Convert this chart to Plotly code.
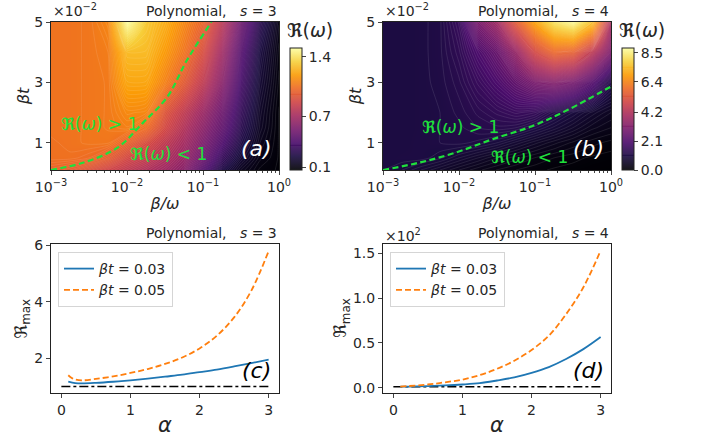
import plotly.graph_objects as go

W, H = 705, 441

# --- contour panels (beta t in units of 1e-2) ---
beta_omega = [0.001, 0.00178, 0.00316, 0.00562, 0.01, 0.0178, 0.0316, 0.0562, 0.1, 0.178, 0.316, 0.562, 1.0]
beta_t = [0.1, 0.5, 1, 1.5, 2, 3, 4, 5]

z_a = [
    [1.00, 0.97, 0.92, 0.86, 0.80, 0.74, 0.68, 0.60, 0.42, 0.24, 0.14, 0.09, 0.08],
    [1.05, 1.05, 1.03, 0.97, 0.88, 0.82, 0.74, 0.65, 0.50, 0.32, 0.19, 0.11, 0.08],
    [1.05, 1.06, 1.07, 1.07, 0.99, 0.90, 0.80, 0.70, 0.56, 0.40, 0.24, 0.13, 0.08],
    [1.06, 1.06, 1.07, 1.08, 1.10, 1.03, 0.88, 0.75, 0.61, 0.46, 0.28, 0.15, 0.08],
    [1.06, 1.06, 1.07, 1.08, 1.13, 1.12, 0.93, 0.80, 0.66, 0.50, 0.31, 0.16, 0.08],
    [1.06, 1.06, 1.07, 1.08, 1.22, 1.22, 1.10, 0.96, 0.80, 0.60, 0.37, 0.19, 0.09],
    [1.06, 1.06, 1.07, 1.09, 1.28, 1.28, 1.18, 1.06, 0.90, 0.68, 0.42, 0.22, 0.10],
    [1.06, 1.06, 1.07, 1.12, 1.50, 1.32, 1.24, 1.12, 1.00, 0.78, 0.50, 0.28, 0.12],
]
z_b = [
    [0.98, 0.90, 0.75, 0.60, 0.45, 0.32, 0.22, 0.15, 0.10, 0.06, 0.04, 0.02, 0.01],
    [1.00, 1.02, 1.02, 0.92, 0.75, 0.60, 0.45, 0.33, 0.22, 0.15, 0.10, 0.06, 0.04],
    [1.00, 1.00, 1.03, 1.05, 1.08, 1.02, 0.90, 0.72, 0.55, 0.40, 0.28, 0.18, 0.12],
    [1.00, 1.00, 1.02, 1.05, 1.10, 1.20, 1.25, 1.20, 1.00, 0.80, 0.60, 0.40, 0.30],
    [1.00, 1.00, 1.02, 1.05, 1.15, 1.30, 1.45, 1.60, 1.50, 1.15, 0.90, 0.65, 0.45],
    [1.00, 1.00, 1.02, 1.08, 1.25, 1.60, 2.00, 2.50, 3.00, 3.20, 2.90, 2.20, 1.10],
    [1.00, 1.00, 1.02, 1.10, 1.40, 2.00, 2.60, 3.60, 5.00, 5.80, 5.60, 4.40, 3.00],
    [1.00, 1.00, 1.02, 1.10, 1.60, 3.00, 3.80, 5.50, 7.00, 8.20, 8.70, 7.50, 3.80],
]

boundary_a_x = [0.001, 0.00263, 0.00741, 0.0162, 0.0339, 0.0617, 0.129]
boundary_a_y = [0.1, 0.34, 0.83, 1.66, 2.52, 3.74, 5.0]
boundary_b_x = [0.001, 0.00295, 0.00891, 0.0269, 0.0912, 0.275, 0.977]
boundary_b_y = [0.1, 0.34, 0.67, 1.11, 1.55, 2.10, 2.85]

log_tick_vals = [0.001, 0.01, 0.1, 1]
log_tick_text = ["10<sup>\u22123</sup>", "10<sup>\u22122</sup>", "10<sup>\u22121</sup>", "10<sup>0</sup>"]

# --- line panels ---
alpha_c_blue = [0.1, 0.2, 0.3, 0.5, 0.75, 1, 1.25, 1.5, 1.75, 2, 2.25, 2.5, 2.75, 3]
rmax_c_blue = [1.17, 1.12, 1.11, 1.13, 1.17, 1.22, 1.28, 1.35, 1.42, 1.51, 1.60, 1.71, 1.83, 1.95]
alpha_c_orange = [0.1, 0.15, 0.2, 0.3, 0.5, 0.75, 1, 1.25, 1.5, 1.75, 2, 2.25, 2.5, 2.75, 3]
rmax_c_orange = [1.40, 1.30, 1.25, 1.22, 1.27, 1.36, 1.48, 1.62, 1.80, 2.03, 2.35, 2.80, 3.45, 4.40, 5.80]

alpha_d = [0.1, 0.5, 0.75, 1, 1.25, 1.5, 1.75, 2, 2.25, 2.5, 2.75, 3]
rmax_d_blue = [0.012, 0.018, 0.025, 0.035, 0.05, 0.08, 0.115, 0.165, 0.23, 0.32, 0.43, 0.565]
rmax_d_orange = [0.012, 0.035, 0.06, 0.09, 0.14, 0.21, 0.30, 0.42, 0.58, 0.82, 1.12, 1.53]

reference_alpha = [0, 3]
reference_c = [1, 1]
reference_d = [0.01, 0.01]

FONT = "DejaVu Sans"
GREEN = "#1fe03c"
LINES = "rgba(255,255,255,0.2)"
R = "\u211c"
INK = "#262626"


def px(x):
    return x / W


def py(y):
    return 1 - y / H


fig = go.Figure()


def contour_panel(z, axis, zmin, zmax, step, ticks, cb_x, bx, by):
    xa, ya = ("x", "y") if axis == 1 else (f"x{axis}", f"y{axis}")
    fig.add_trace(go.Contour(
        x=beta_omega, y=beta_t, z=z, xaxis=xa, yaxis=ya,
        colorscale="Inferno", zmin=zmin, zmax=zmax,
        contours=dict(coloring="heatmap", start=zmin, end=zmax, size=step),
        line=dict(color=LINES, width=0.5, smoothing=0.6),
        colorbar=dict(
            x=px(cb_x), xanchor="left", y=py(170), yanchor="bottom",
            len=122 / H, lenmode="fraction", thickness=12, thicknessmode="pixels",
            xpad=0, ypad=0, tickvals=ticks, ticks="outside", ticklen=4, tickwidth=1,
            tickformat=".1f", outlinecolor="#222", outlinewidth=1,
            tickfont=dict(size=14, color=INK),
        ),
        showlegend=False,
    ))
    fig.add_trace(go.Scatter(
        x=bx, y=by, xaxis=xa, yaxis=ya, mode="lines", showlegend=False,
        line=dict(color=GREEN, width=2.2, dash="6px,3.5px", shape="spline"),
    ))


contour_panel(z_a, 1, 0.07, 1.505, 0.012, [0.1, 0.7, 1.4], 290, boundary_a_x, boundary_a_y)
contour_panel(z_b, 2, 0.0, 8.84, 0.075, [0.0, 2.1, 4.2, 6.4, 8.5], 622, boundary_b_x, boundary_b_y)

BLUE, ORANGE = "#1f77b4", "#ff7f0e"
LB1 = "<i>\u03b2t</i> = 0.03"
LB2 = "<i>\u03b2t</i> = 0.05"


def line_panel(xa, ya, legend, xb, yb, xo, yo, yref):
    fig.add_trace(go.Scatter(x=reference_alpha, y=yref, xaxis=xa, yaxis=ya, mode="lines",
                             line=dict(color="black", width=1.5, dash="dashdot"), showlegend=False))
    fig.add_trace(go.Scatter(x=xb, y=yb, xaxis=xa, yaxis=ya, mode="lines", name=LB1, legend=legend,
                             line=dict(color=BLUE, width=1.8, shape="spline")))
    fig.add_trace(go.Scatter(x=xo, y=yo, xaxis=xa, yaxis=ya, mode="lines", name=LB2, legend=legend,
                             line=dict(color=ORANGE, width=1.8, dash="6px,3px", shape="spline")))


line_panel("x3", "y3", "legend", alpha_c_blue, rmax_c_blue, alpha_c_orange, rmax_c_orange, reference_c)
line_panel("x4", "y4", "legend2", alpha_d, rmax_d_blue, alpha_d, rmax_d_orange, reference_d)

TICK = dict(size=14, color=INK)
axis_common = dict(showline=True, mirror=True, linecolor="#222", linewidth=1, ticks="outside",
                   ticklen=4, tickwidth=1, showgrid=False, zeroline=False, tickfont=TICK, automargin=False)
top_dom = [py(170), py(22)]
bot_dom = [py(393.3), py(244.3)]
left_dom = [px(51), px(279)]
right_dom = [px(383), px(611)]

log_x = dict(type="log", range=[-3, 0], tickmode="array", tickvals=log_tick_vals, ticktext=log_tick_text,
             minor=dict(ticks="outside", ticklen=2, tickwidth=0.7, dtick="D1", showgrid=False),
             title=dict(text="<i>\u03b2/\u03c9</i>", font=dict(size=16, color=INK), standoff=4))
lin_y = dict(range=[0.1, 5], tickvals=[1, 3, 5],
             title=dict(text="<i>\u03b2t</i>", font=dict(size=16, color=INK), standoff=0))
alpha_x = dict(range=[-0.15, 3.15], tickvals=[0, 1, 2, 3],
               title=dict(text="<i>\u03b1</i>", font=dict(size=21, color=INK), standoff=0))
rmax_title = dict(text=f"{R}<sub>max</sub>", font=dict(size=17, color=INK), standoff=2)

fig.update_layout(
    width=W, height=H, autosize=False, margin=dict(l=0, r=0, t=0, b=0),
    paper_bgcolor="white", plot_bgcolor="white",
    font=dict(family=FONT, color=INK),
    xaxis=dict(domain=left_dom, anchor="y", **axis_common, **log_x),
    yaxis=dict(domain=top_dom, anchor="x", **axis_common, **lin_y),
    xaxis2=dict(domain=right_dom, anchor="y2", **axis_common, **log_x),
    yaxis2=dict(domain=top_dom, anchor="x2", **axis_common, **lin_y),
    xaxis3=dict(domain=left_dom, anchor="y3", **axis_common, **alpha_x),
    yaxis3=dict(domain=bot_dom, anchor="x3", range=[0.76, 6.04], tickvals=[2, 4, 6],
                title=rmax_title, **axis_common),
    xaxis4=dict(domain=right_dom, anchor="y4", **axis_common, **alpha_x),
    yaxis4=dict(domain=bot_dom, anchor="x4", range=[-0.063, 1.60], tickvals=[0, 0.5, 1.0, 1.5],
                tickformat=".1f", **axis_common),
    legend=dict(x=px(58), y=py(252), xanchor="left", yanchor="top", bgcolor="rgba(255,255,255,0.8)",
                bordercolor="#d5d5d5", borderwidth=1, font=dict(size=14, color=INK),
                itemwidth=30),
    legend2=dict(x=px(390), y=py(252), xanchor="left", yanchor="top", bgcolor="rgba(255,255,255,0.8)",
                 bordercolor="#d5d5d5", borderwidth=1, font=dict(size=14, color=INK),
                 itemwidth=30),
)


def note(x, y, text, size=14, color=INK, anchor="center", angle=0):
    fig.add_annotation(xref="paper", yref="paper", x=px(x), y=py(y), text=text, showarrow=False,
                       xanchor=anchor, yanchor="middle", font=dict(size=size, color=color),
                       borderpad=0, textangle=angle)


TITLE3 = "Polynomial,   <i>s</i> = 3"
TITLE4 = "Polynomial,   <i>s</i> = 4"
note(278, 11, TITLE3, anchor="right")
note(610, 11, TITLE4, anchor="right")
note(278, 233, TITLE3, anchor="right")
note(610, 233, TITLE4, anchor="right")
note(52, 10, "\u00d710<sup>\u22122</sup>", anchor="left")
note(384, 10, "\u00d710<sup>\u22122</sup>", anchor="left")
note(384, 235, "\u00d710<sup>2</sup>", anchor="left")
note(310, 30, f"<b>{R}</b>(<i>\u03c9</i>)", size=19)
note(642, 30, f"<b>{R}</b>(<i>\u03c9</i>)", size=19)
note(341, 318, f"{R}<sub>max</sub>", size=17, angle=-90)
note(99, 124, f"<b>{R}</b>(<i>\u03c9</i>) &gt; 1", size=17, color=GREEN)
note(168, 154, f"<b>{R}</b>(<i>\u03c9</i>) &lt; 1", size=17, color=GREEN)
note(461, 127, f"<b>{R}</b>(<i>\u03c9</i>) &gt; 1", size=17, color=GREEN)
note(529, 157, f"<b>{R}</b>(<i>\u03c9</i>) &lt; 1", size=17, color=GREEN)
note(256, 148, "<i>(a)</i>", size=22, color="white")
note(588, 148, "<i>(b)</i>", size=22, color="white")
note(256, 370, "<i>(c)</i>", size=22, color="black")
note(588, 370, "<i>(d)</i>", size=22, color="black")

fig.write_html("out.html", config=dict(displayModeBar=False),
               post_script="document.body.style.margin='0';")
